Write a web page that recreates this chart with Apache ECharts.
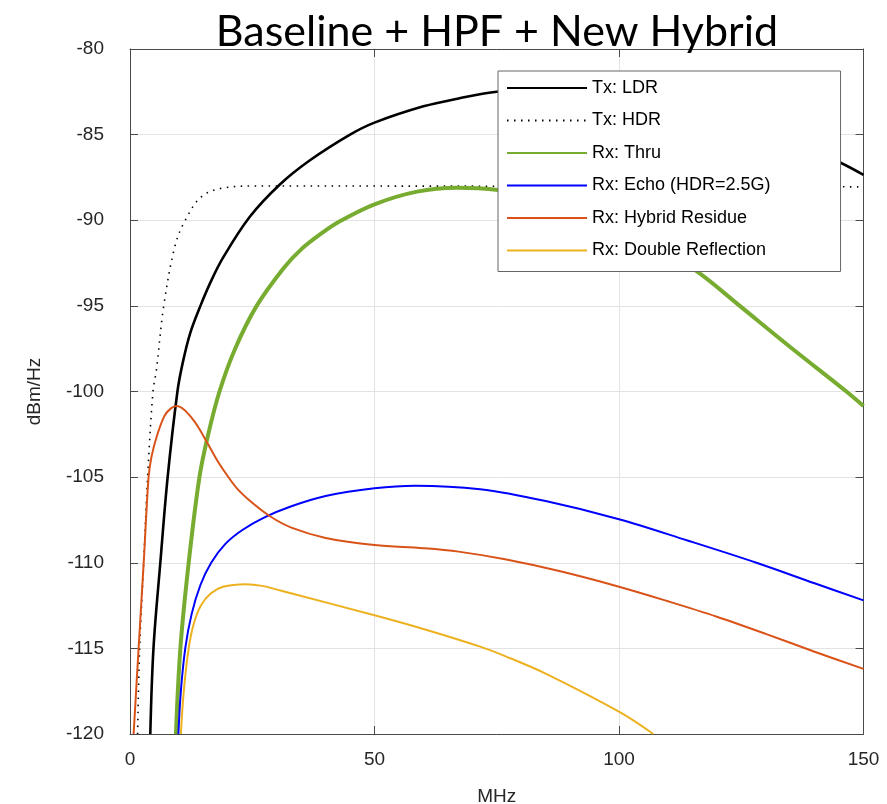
<!DOCTYPE html>
<html>
<head>
<meta charset="utf-8">
<script src="https://cdn.jsdelivr.net/npm/echarts@6/dist/echarts.min.js"></script>
<style>
html, body { margin: 0; padding: 0; background: #fff; }
#chart { width: 887px; height: 804px; }
</style>
</head>
<body>
<div id="chart"></div>
<script>
// series names (legend order)
const names = ['Tx: LDR', 'Tx: HDR', 'Rx: Thru', 'Rx: Echo (HDR=2.5G)', 'Rx: Hybrid Residue', 'Rx: Double Reflection'];

// [MHz, dBm/Hz]
const txLdr = [[4.15,-120],[4.8,-115],[6.2,-110],[7.7,-105],[9.7,-100],[10.8,-98.3],[12.3,-96.6],[14.4,-95],[16.5,-93.6],[19,-92.2],[24.5,-89.8],[30.7,-87.9],[36.8,-86.5],[45,-85],[50,-84.3],[60,-83.35],[67,-82.9],[75,-82.5],[90,-82.33],[100,-82.6],[110,-83.2],[120,-84.05],[130,-85],[140,-86],[145,-86.6],[150,-87.35]];
const txHdr = [[1.55,-120],[1.97,-115],[2.8,-110],[3.6,-105],[4.7,-100],[5.4,-98.75],[6.9,-95],[9.2,-91.5],[11.3,-90],[14.7,-88.6],[19.4,-88.1],[26,-88],[150,-88.05]];
const rxThru = [[9.4,-120],[10.3,-115],[12,-110],[14.2,-105],[16,-102.5],[18.3,-100],[21.5,-97.5],[25.9,-95],[31.4,-92.8],[35,-91.7],[39,-90.8],[43,-90.05],[50,-89.07],[58.7,-88.33],[66.8,-88.1],[75.3,-88.23],[85,-88.7],[95,-89.6],[105,-90.9],[116.5,-93.1],[124.7,-95],[135,-97.4],[146.5,-100],[150,-100.85]];
const rxEcho = [[9.9,-120],[10.4,-117.5],[11.3,-115],[12.6,-113],[14.4,-111.3],[16.6,-110],[19.5,-108.9],[22.9,-108.1],[27.5,-107.35],[33,-106.7],[40,-106.1],[50,-105.65],[58.3,-105.5],[71.6,-105.71],[85,-106.4],[100,-107.46],[114,-108.7],[128.1,-110],[140,-111.2],[150,-112.2]];
const rxResidue = [[0.74,-120],[1.76,-115],[2.8,-110],[3.8,-105],[4.4,-103.8],[5.5,-102.6],[7,-101.45],[8.3,-101],[9.6,-100.85],[11,-101.05],[12.5,-101.5],[14,-102.1],[16,-103.1],[18,-104.1],[20,-104.95],[22,-105.7],[25,-106.5],[28.7,-107.3],[33,-107.95],[40,-108.55],[50,-108.97],[60,-109.15],[67.2,-109.35],[76.7,-109.8],[88,-110.5],[100,-111.4],[110,-112.25],[120,-113.15],[130,-114.15],[140,-115.2],[150,-116.2]];
const rxDouble = [[10.4,-120],[11,-117.5],[12,-115],[13,-113.6],[14.5,-112.5],[16.5,-111.8],[19,-111.4],[23.6,-111.25],[27,-111.35],[33.1,-111.8],[50,-113.07],[60,-113.87],[71.6,-114.9],[76.7,-115.45],[85.2,-116.5],[100,-118.7],[107,-120]];

const txtColor = '#262626';
const axisColor = '#4a4a4a';
const font = 'Liberation Sans, Arial, sans-serif';

function line(name, data, color, width, type) {
    return {
        name: name,
        type: 'line',
        data: data,
        symbol: 'none',
        showSymbol: false,
        smooth: 0.35,
        clip: true,
        lineStyle: { color: color, width: width, type: type || 'solid' },
        itemStyle: { color: color }
    };
}

let myChart = echarts.init(document.getElementById('chart'));
let option = {
    animation: false,
    backgroundColor: '#fff',
    title: {
        text: 'Baseline + HPF + New Hybrid',
        left: 492,
        textAlign: 'center',
        top: 6,
        textStyle: { color: '#000', fontSize: 43, fontWeight: 'normal', fontFamily: 'Lato, sans-serif' }
    },
    grid: { left: 130, right: 23.5, top: 49, bottom: 70, outerBoundsMode: 'none' },
    legend: {
        data: names,
        orient: 'vertical',
        left: 498,
        top: 71,
        itemWidth: 80,
        itemHeight: 14,
        itemGap: 14.5,
        padding: [8, 70, 12, 8],
        backgroundColor: '#fff',
        borderColor: '#666',
        borderWidth: 1,
        itemStyle: { opacity: 0 },
        textStyle: { color: '#000', fontSize: 18, fontFamily: font }
    },
    xAxis: [{
        type: 'value',
        min: 0, max: 150, interval: 50,
        name: 'MHz',
        nameLocation: 'middle',
        nameGap: 53,
        nameTextStyle: { color: txtColor, fontSize: 19, fontFamily: font },
        axisLine: { show: true, onZero: false, lineStyle: { color: axisColor, width: 1 } },
        axisTick: { show: true, inside: true, length: 8, lineStyle: { color: axisColor } },
        axisLabel: { color: txtColor, fontSize: 19, fontFamily: font, margin: 16 },
        splitLine: { show: true, lineStyle: { color: '#e3e3e3', width: 1 } }
    }, {
        type: 'value', position: 'top',
        min: 0, max: 150, interval: 50,
        axisLine: { show: true, onZero: false, lineStyle: { color: axisColor, width: 1 } },
        axisTick: { show: true, inside: true, length: 8, lineStyle: { color: axisColor } },
        axisLabel: { show: false },
        splitLine: { show: false }
    }],
    yAxis: [{
        type: 'value',
        min: -120, max: -80, interval: 5,
        name: 'dBm/Hz',
        nameLocation: 'middle',
        nameGap: 86,
        nameTextStyle: { color: txtColor, fontSize: 19, fontFamily: font },
        axisLine: { show: true, onZero: false, lineStyle: { color: axisColor, width: 1 } },
        axisTick: { show: true, inside: true, length: 8, lineStyle: { color: axisColor } },
        axisLabel: { color: txtColor, fontSize: 19, fontFamily: font, margin: 26 },
        splitLine: { show: true, lineStyle: { color: '#e3e3e3', width: 1 } }
    }, {
        type: 'value', position: 'right',
        min: -120, max: -80, interval: 5,
        axisLine: { show: true, onZero: false, lineStyle: { color: axisColor, width: 1 } },
        axisTick: { show: true, inside: true, length: 8, lineStyle: { color: axisColor } },
        axisLabel: { show: false },
        splitLine: { show: false }
    }],
    series: [
        line(names[0], txLdr, '#000000', 2.6),
        line(names[1], txHdr, '#000000', 1.6, [1.5, 5.5]),
        line(names[2], rxThru, '#77AC30', 4),
        line(names[3], rxEcho, '#0000FF', 2),
        line(names[4], rxResidue, '#D95319', 2),
        line(names[5], rxDouble, '#EDB120', 2)
    ]
};

option && myChart.setOption(option);
</script>
</body>
</html>
